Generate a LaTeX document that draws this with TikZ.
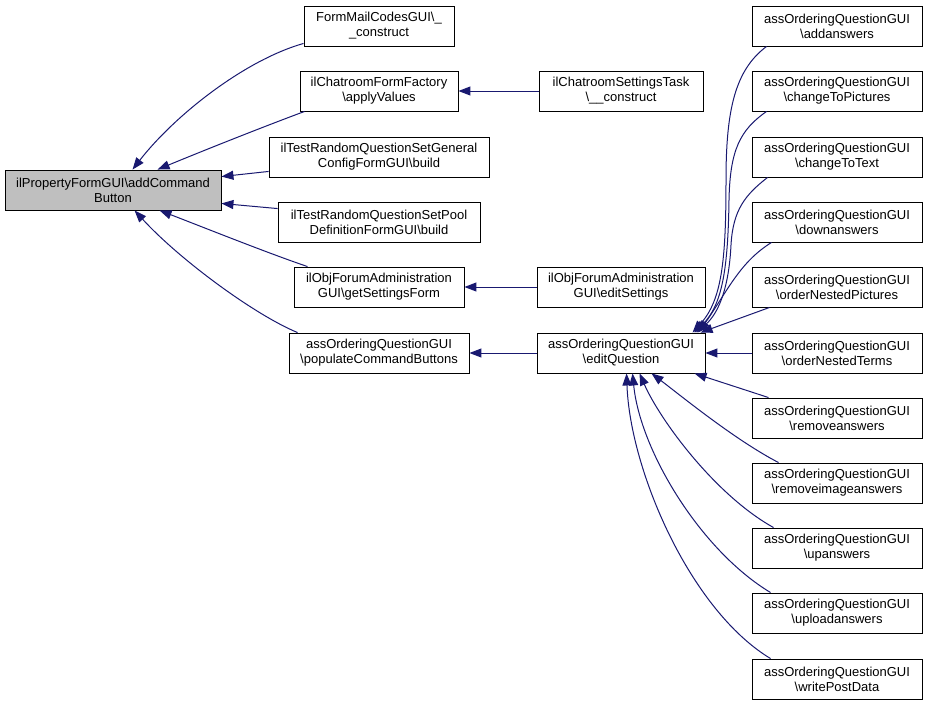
\documentclass[tikz,border=0pt]{standalone}
\usepackage{fontspec}
\setmainfont{Liberation Sans}
\usetikzlibrary{arrows.meta,calc}
\definecolor{edgeblue}{RGB}{25,25,112}
\definecolor{hlgray}{RGB}{191,191,191}
\tikzset{
  box/.style={draw=black,line width=0.9pt,fill=white,minimum height=40pt,inner sep=0pt,align=center,font=\fontsize{13}{15}\selectfont},
  hlbox/.style={box,fill=hlgray},
  edge/.style={draw=edgeblue,line width=1pt,-{Triangle[length=12pt,width=9pt]}}
}
\begin{document}
\begin{tikzpicture}[x=1pt,y=-1pt]
\useasboundingbox (0,0) rectangle (927,705);
% left
\node[hlbox,minimum width=216pt] (L) at (113,190) {ilPropertyFormGUI\textbackslash addCommand\\Button};
% column 2
\node[box,minimum width=150pt] (fm) at (379,26) {FormMailCodesGUI\textbackslash\_\\\_construct};
\node[box,minimum width=158pt] (cff) at (379,91) {ilChatroomFormFactory\\\textbackslash applyValues};
\node[box,minimum width=220pt] (gen) at (379,157) {ilTestRandomQuestionSetGeneral\\ConfigFormGUI\textbackslash build};
\node[box,minimum width=202pt] (pool) at (379,222) {ilTestRandomQuestionSetPool\\DefinitionFormGUI\textbackslash build};
\node[box,minimum width=170pt] (gsf) at (379,287) {ilObjForumAdministration\\GUI\textbackslash getSettingsForm};
\node[box,minimum width=180pt] (pop) at (379,353) {assOrderingQuestionGUI\\\textbackslash populateCommandButtons};
% column 3
\node[box,minimum width=164pt] (cst) at (621,91) {ilChatroomSettingsTask\\\textbackslash\_\_construct};
\node[box,minimum width=168pt] (es) at (621,287) {ilObjForumAdministration\\GUI\textbackslash editSettings};
\node[box,minimum width=168pt] (eq) at (621,353) {assOrderingQuestionGUI\\\textbackslash editQuestion};
% column 4
\node[box,minimum width=170pt] (a0) at (837,26) {assOrderingQuestionGUI\\\textbackslash addanswers};
\node[box,minimum width=170pt] (a1) at (837,91) {assOrderingQuestionGUI\\\textbackslash changeToPictures};
\node[box,minimum width=170pt] (a2) at (837,157) {assOrderingQuestionGUI\\\textbackslash changeToText};
\node[box,minimum width=170pt] (a3) at (837,222) {assOrderingQuestionGUI\\\textbackslash downanswers};
\node[box,minimum width=170pt] (a4) at (837,287) {assOrderingQuestionGUI\\\textbackslash orderNestedPictures};
\node[box,minimum width=170pt] (a5) at (837,353) {assOrderingQuestionGUI\\\textbackslash orderNestedTerms};
\node[box,minimum width=170pt] (a6) at (837,418) {assOrderingQuestionGUI\\\textbackslash removeanswers};
\node[box,minimum width=170pt] (a7) at (837,483) {assOrderingQuestionGUI\\\textbackslash removeimageanswers};
\node[box,minimum width=170pt] (a8) at (837,548) {assOrderingQuestionGUI\\\textbackslash upanswers};
\node[box,minimum width=170pt] (a9) at (837,613) {assOrderingQuestionGUI\\\textbackslash uploadanswers};
\node[box,minimum width=170pt] (a10) at (837,679) {assOrderingQuestionGUI\\\textbackslash writePostData};
% edges into L
\draw[edge] ($(fm.south west)+(0,-3)$) .. controls (245,60) and (175,115) .. ($(L.north west)+(128,0)$);
\draw[edge] ($(cff.south west)+(5,0)$) .. controls (260,128) and (200,152) .. ($(L.north west)+(153,0)$);
\draw[edge] ($(gen.south west)+(0,-6)$) -- ($(L.north east)+(0,7)$);
\draw[edge] ($(pool.north west)+(0,7)$) -- ($(L.south east)+(0,-7)$);
\draw[edge] ($(gsf.north west)+(14,0)$) .. controls (270,254) and (195,224) .. ($(L.south west)+(155,0)$);
\draw[edge] ($(pop.north west)+(9,0)$) .. controls (255,315) and (180,260) .. ($(L.south west)+(130,0)$);
% horizontal
\draw[edge] (cst.west) -- (cff.east);
\draw[edge] (es.west) -- (gsf.east);
\draw[edge] (eq.west) -- (pop.east);
\draw[edge] (a5.west) -- (eq.east);
% column 4 top
\draw[edge] ($(a0.south west)+(15,0)$) .. controls (735,70) and (726,110) .. (726,180) .. controls (726,260) and (722,300) .. ($(eq.north west)+(156,0)$);
\draw[edge] ($(a1.south west)+(15,0)$) .. controls (740,130) and (730,150) .. (729,200) .. controls (728,270) and (722,305) .. ($(eq.north west)+(158,0)$);
\draw[edge] ($(a2.south west)+(16,0)$) .. controls (745,195) and (733,210) .. (731,245) .. controls (729,285) and (720,312) .. ($(eq.north west)+(160,0)$);
\draw[edge] ($(a3.south west)+(20,0)$) .. controls (740,262) and (728,290) .. ($(eq.north west)+(162,0)$);
\draw[edge] ($(a4.south west)+(18,0)$) -- ($(eq.north west)+(164,0)$);
% column 4 bottom
\draw[edge] ($(a6.north west)+(17,0)$) -- ($(eq.south west)+(158,0)$);
\draw[edge] ($(a7.north west)+(27,0)$) .. controls (735,440) and (680,395) .. ($(eq.south west)+(115,0)$);
\draw[edge] ($(a8.north west)+(22,0)$) .. controls (715,495) and (660,420) .. ($(eq.south west)+(103,0)$);
\draw[edge] ($(a9.north west)+(19,0)$) .. controls (700,550) and (640,450) .. ($(eq.south west)+(96,0)$);
\draw[edge] ($(a10.north west)+(19,0)$) .. controls (690,610) and (630,470) .. ($(eq.south west)+(90,0)$);
\end{tikzpicture}
\end{document}
